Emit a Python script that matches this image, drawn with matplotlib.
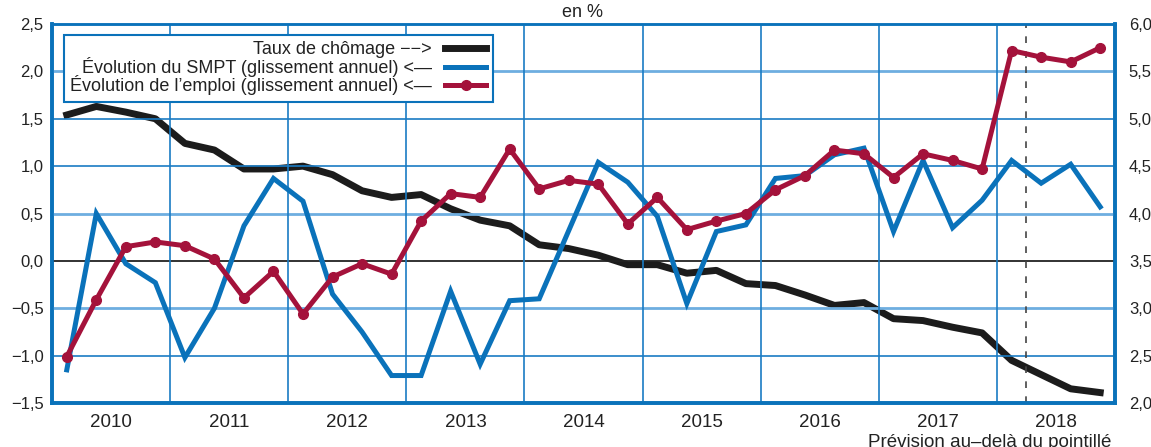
import matplotlib
matplotlib.use("Agg")
import matplotlib.pyplot as plt
import numpy as np

plt.rcParams['font.family'] = ['Liberation Sans', 'DejaVu Sans']

# quarterly data, 2010 Q1 .. 2018 Q4
years = list(range(2010, 2019))
n_quarters = 36

# taux de chomage (right axis, %)
chomage = [5.04, 5.13, 5.07, 5.00, 4.74, 4.67, 4.47, 4.47, 4.50, 4.41, 4.24, 4.17,
           4.20, 4.05, 3.93, 3.87, 3.67, 3.63, 3.56, 3.46, 3.46, 3.37, 3.40, 3.26,
           3.24, 3.14, 3.03, 3.06, 2.89, 2.87, 2.80, 2.74, 2.45, 2.30, 2.15, 2.11]

# evolution du SMPT (left axis)
smpt = [-1.15, 0.50, -0.03, -0.23, -1.02, -0.50, 0.37, 0.87, 0.63, -0.35, -0.75, -1.21,
        -1.21, -0.32, -1.09, -0.42, -0.40, 0.32, 1.04, 0.83, 0.47, -0.45, 0.31, 0.38,
        0.87, 0.90, 1.12, 1.19, 0.31, 1.06, 0.35, 0.64, 1.06, 0.82, 1.02, 0.57]

# evolution de l'emploi (left axis)
emploi = [-1.01, -0.41, 0.15, 0.20, 0.16, 0.02, -0.39, -0.11, -0.56, -0.17, -0.03, -0.14,
          0.42, 0.71, 0.67, 1.18, 0.76, 0.85, 0.81, 0.39, 0.67, 0.33, 0.42, 0.50,
          0.75, 0.90, 1.17, 1.13, 0.88, 1.13, 1.06, 0.97, 2.22, 2.15, 2.10, 2.25]

forecast_start = 2018.25

BLUE = '#0a72ba'
RED = '#a4123b'
BLACK = '#1c1c1c'
GRID_DARK = '#1a7cc4'
GRID_LIGHT = '#6eaee0'
TXT = '#222222'

x = 2010 + (np.arange(n_quarters) + 0.5) / 4


def fr(v, pos=None):
    return f'{v:.1f}'.replace('.', ',').replace('-', '\u2212')


fig = plt.figure(figsize=(11.51, 4.47), dpi=100)
ax = fig.add_axes([0.0452, 0.0984, 0.9235, 0.8479])
ax2 = ax.twinx()

ax.set_xlim(2010, 2019)
ax.set_ylim(-1.5, 2.5)
ax2.set_ylim(2.0, 6.0)

# grid
for v in np.arange(-1.0, 2.5, 0.5):
    if abs(v) < 1e-9:
        ax.axhline(0, color='#222222', lw=1.3, zorder=1)
    elif round(v, 1) in (2.0, 0.5, -0.5):
        ax.axhline(v, color=GRID_LIGHT, lw=2.0, zorder=1)
    else:
        ax.axhline(v, color=GRID_DARK, lw=1.2, zorder=1)
for yr in years[1:]:
    ax.axvline(yr, color=GRID_DARK, lw=1.2, zorder=1)
ax.axvline(forecast_start, color='#444444', lw=1.2, ls=(0, (4, 5)), zorder=2)

l2, = ax.plot(x, smpt, color=BLUE, lw=3.6, solid_joinstyle='miter', zorder=3)
l3, = ax.plot(x, emploi, color=RED, lw=3.6, marker='o', ms=7, zorder=4)
l1, = ax2.plot(x, chomage, color=BLACK, lw=5, zorder=3)

# ticks
ax.set_yticks(np.arange(-1.5, 2.51, 0.5))
ax2.set_yticks(np.arange(2.0, 6.01, 0.5))
ax.yaxis.set_major_formatter(plt.FuncFormatter(fr))
ax2.yaxis.set_major_formatter(plt.FuncFormatter(fr))
ax.set_xticks(years + [2019])
ax.set_xticklabels([])
ax.set_xticks([y + 0.5 for y in years], minor=True)
ax.set_xticklabels([str(y) for y in years], minor=True)
ax.tick_params(axis='x', which='both', length=0, labelsize=13.5, pad=8, colors=TXT)
ax.tick_params(axis='y', length=0, labelsize=12, pad=6, colors=TXT)
ax2.tick_params(axis='y', length=0, labelsize=12, pad=10, colors=TXT)

for a in (ax, ax2):
    for side in ('left', 'right', 'bottom'):
        a.spines[side].set_color(BLUE)
        a.spines[side].set_linewidth(2.6)
    a.spines['top'].set_color(BLUE)
    a.spines['top'].set_linewidth(1.8)

ax.set_zorder(ax2.get_zorder() + 1)
ax.patch.set_visible(False)

leg = ax.legend([l1, l2, l3],
                ['Taux de chômage \u2212\u2212>',
                 'Évolution du SMPT (glissement annuel) <\u2014',
                 'Évolution de l\u2019emploi (glissement annuel) <\u2014'],
                loc='upper left', bbox_to_anchor=(0.0113, 0.971), borderaxespad=0,
                markerfirst=False, fontsize=13, frameon=True, fancybox=False,
                handlelength=2.3, handletextpad=0.7, labelspacing=-0.08,
                borderpad=0.35, numpoints=1)
leg.get_frame().set_edgecolor(BLUE)
leg.get_frame().set_linewidth(1.5)
leg.get_frame().set_alpha(1)
for t in leg.get_texts():
    t.set_color(TXT)

fig.text(0.5065, 0.972, 'en %', ha='center', va='center', fontsize=13, color=TXT)
fig.text(0.966, 1 - 434 / 447, 'Prévision au\u2013delà du pointillé', ha='right', va='top',
         fontsize=13.5, color=TXT)

fig.savefig('out.png', dpi=100)
